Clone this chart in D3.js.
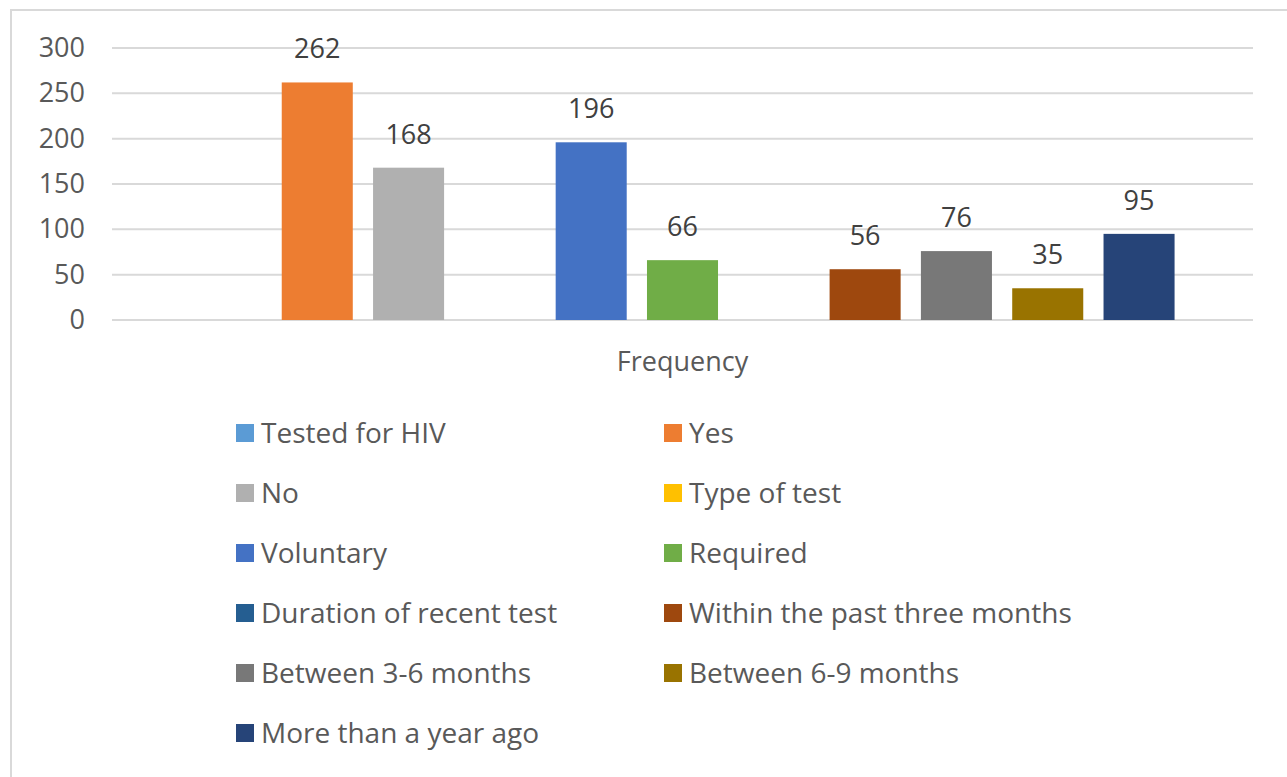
<!DOCTYPE html>
<html>
<head>
<meta charset="utf-8">
<script src="https://cdn.jsdelivr.net/npm/d3@7"></script>
<style>
  body { margin: 0; background: #fff; }
  text { font-family: "Open Sans", sans-serif; }
</style>
</head>
<body>
<svg id="drawing_region"></svg>
<script>
// data
const categories = ["Frequency"];
const series = ["Tested for HIV", "Yes", "No", "Type of test", "Voluntary", "Required",
    "Duration of recent test", "Within the past three months", "Between 3-6 months",
    "Between 6-9 months", "More than a year ago"];
const values = [null, 262, 168, null, 196, 66, null, 56, 76, 35, 95];
const colors = ["#5b9bd5", "#ed7d31", "#b0b0b0", "#ffc000", "#4472c4", "#70ad47",
    "#255e91", "#9e480e", "#787878", "#997300", "#264478"];
const yTicks = [0, 50, 100, 150, 200, 250, 300];

const config = {
    width: 1287,
    height: 777,
    margin: {top: 48, right: 34, bottom: 457, left: 112}
};

const data = series.map((s, i) => ({ name: s, value: values[i], color: colors[i] }));

const svg = d3.select('#drawing_region')
    .attr('width', config.width)
    .attr('height', config.height);

// chart border
svg.append('rect')
    .attr('x', 11).attr('y', 10)
    .attr('width', config.width + 20).attr('height', config.height + 20)
    .attr('fill', 'none')
    .attr('stroke', '#d9d9d9')
    .attr('stroke-width', 2);

const inner_width = config.width - config.margin.left - config.margin.right;
const inner_height = config.height - config.margin.top - config.margin.bottom;

const chart = svg.append('g')
    .attr('transform', `translate(${config.margin.left}, ${config.margin.top})`);

const x0 = d3.scaleBand()
    .domain(categories)
    .range([0, inner_width])
    .paddingInner(0)
    .paddingOuter(0.068);

const x1 = d3.scaleBand()
    .domain(series)
    .range([0, x0.bandwidth()])
    .paddingInner(0.222)
    .paddingOuter(0.111);

const yscale = d3.scaleLinear()
    .domain([0, 300])
    .range([inner_height, 0]);

// gridlines
chart.append('g')
    .selectAll('line')
    .data(yTicks)
    .join('line')
    .attr('x1', 0).attr('x2', inner_width)
    .attr('y1', d => yscale(d)).attr('y2', d => yscale(d))
    .attr('stroke', '#d9d9d9')
    .attr('stroke-width', 2);

// y axis
const yaxis = d3.axisLeft(yscale)
    .tickValues(yTicks)
    .tickSize(0)
    .tickPadding(27);

const yaxis_group = chart.append('g').call(yaxis);
yaxis_group.select('.domain').remove();
yaxis_group.selectAll('text')
    .attr('fill', '#595959')
    .style('font-size', '27px')
    .style('font-family', '"Open Sans", sans-serif');

// bars
const groups = chart.selectAll('.cat')
    .data(categories)
    .join('g')
    .attr('class', 'cat')
    .attr('transform', d => `translate(${x0(d)},0)`);

const barData = data.filter(d => d.value !== null);

groups.selectAll('rect')
    .data(barData)
    .join('rect')
    .attr('x', d => x1(d.name))
    .attr('y', d => yscale(d.value))
    .attr('width', x1.bandwidth())
    .attr('height', d => inner_height - yscale(d.value))
    .attr('fill', d => d.color);

groups.selectAll('.label')
    .data(barData)
    .join('text')
    .attr('class', 'label')
    .attr('x', d => x1(d.name) + x1.bandwidth() / 2)
    .attr('y', d => yscale(d.value) - 24)
    .attr('text-anchor', 'middle')
    .attr('fill', '#404040')
    .style('font-size', '27px')
    .text(d => d.value);

// category axis label
chart.append('g')
    .selectAll('text')
    .data(categories)
    .join('text')
    .attr('x', d => x0(d) + x0.bandwidth() / 2)
    .attr('y', inner_height + 51)
    .attr('text-anchor', 'middle')
    .attr('fill', '#595959')
    .style('font-size', '27px')
    .text(d => d);

// legend
const legend = svg.append('g');
const items = legend.selectAll('g')
    .data(data)
    .join('g')
    .attr('transform', (d, i) => `translate(${i % 2 === 0 ? 236 : 664}, ${433 + Math.floor(i / 2) * 60})`);

items.append('rect')
    .attr('x', 0).attr('y', -9)
    .attr('width', 18).attr('height', 18)
    .attr('fill', d => d.color);

items.append('text')
    .attr('x', 25)
    .attr('y', 10)
    .attr('fill', '#595959')
    .style('font-size', '28px')
    .text(d => d.name);
</script>
</body>
</html>
